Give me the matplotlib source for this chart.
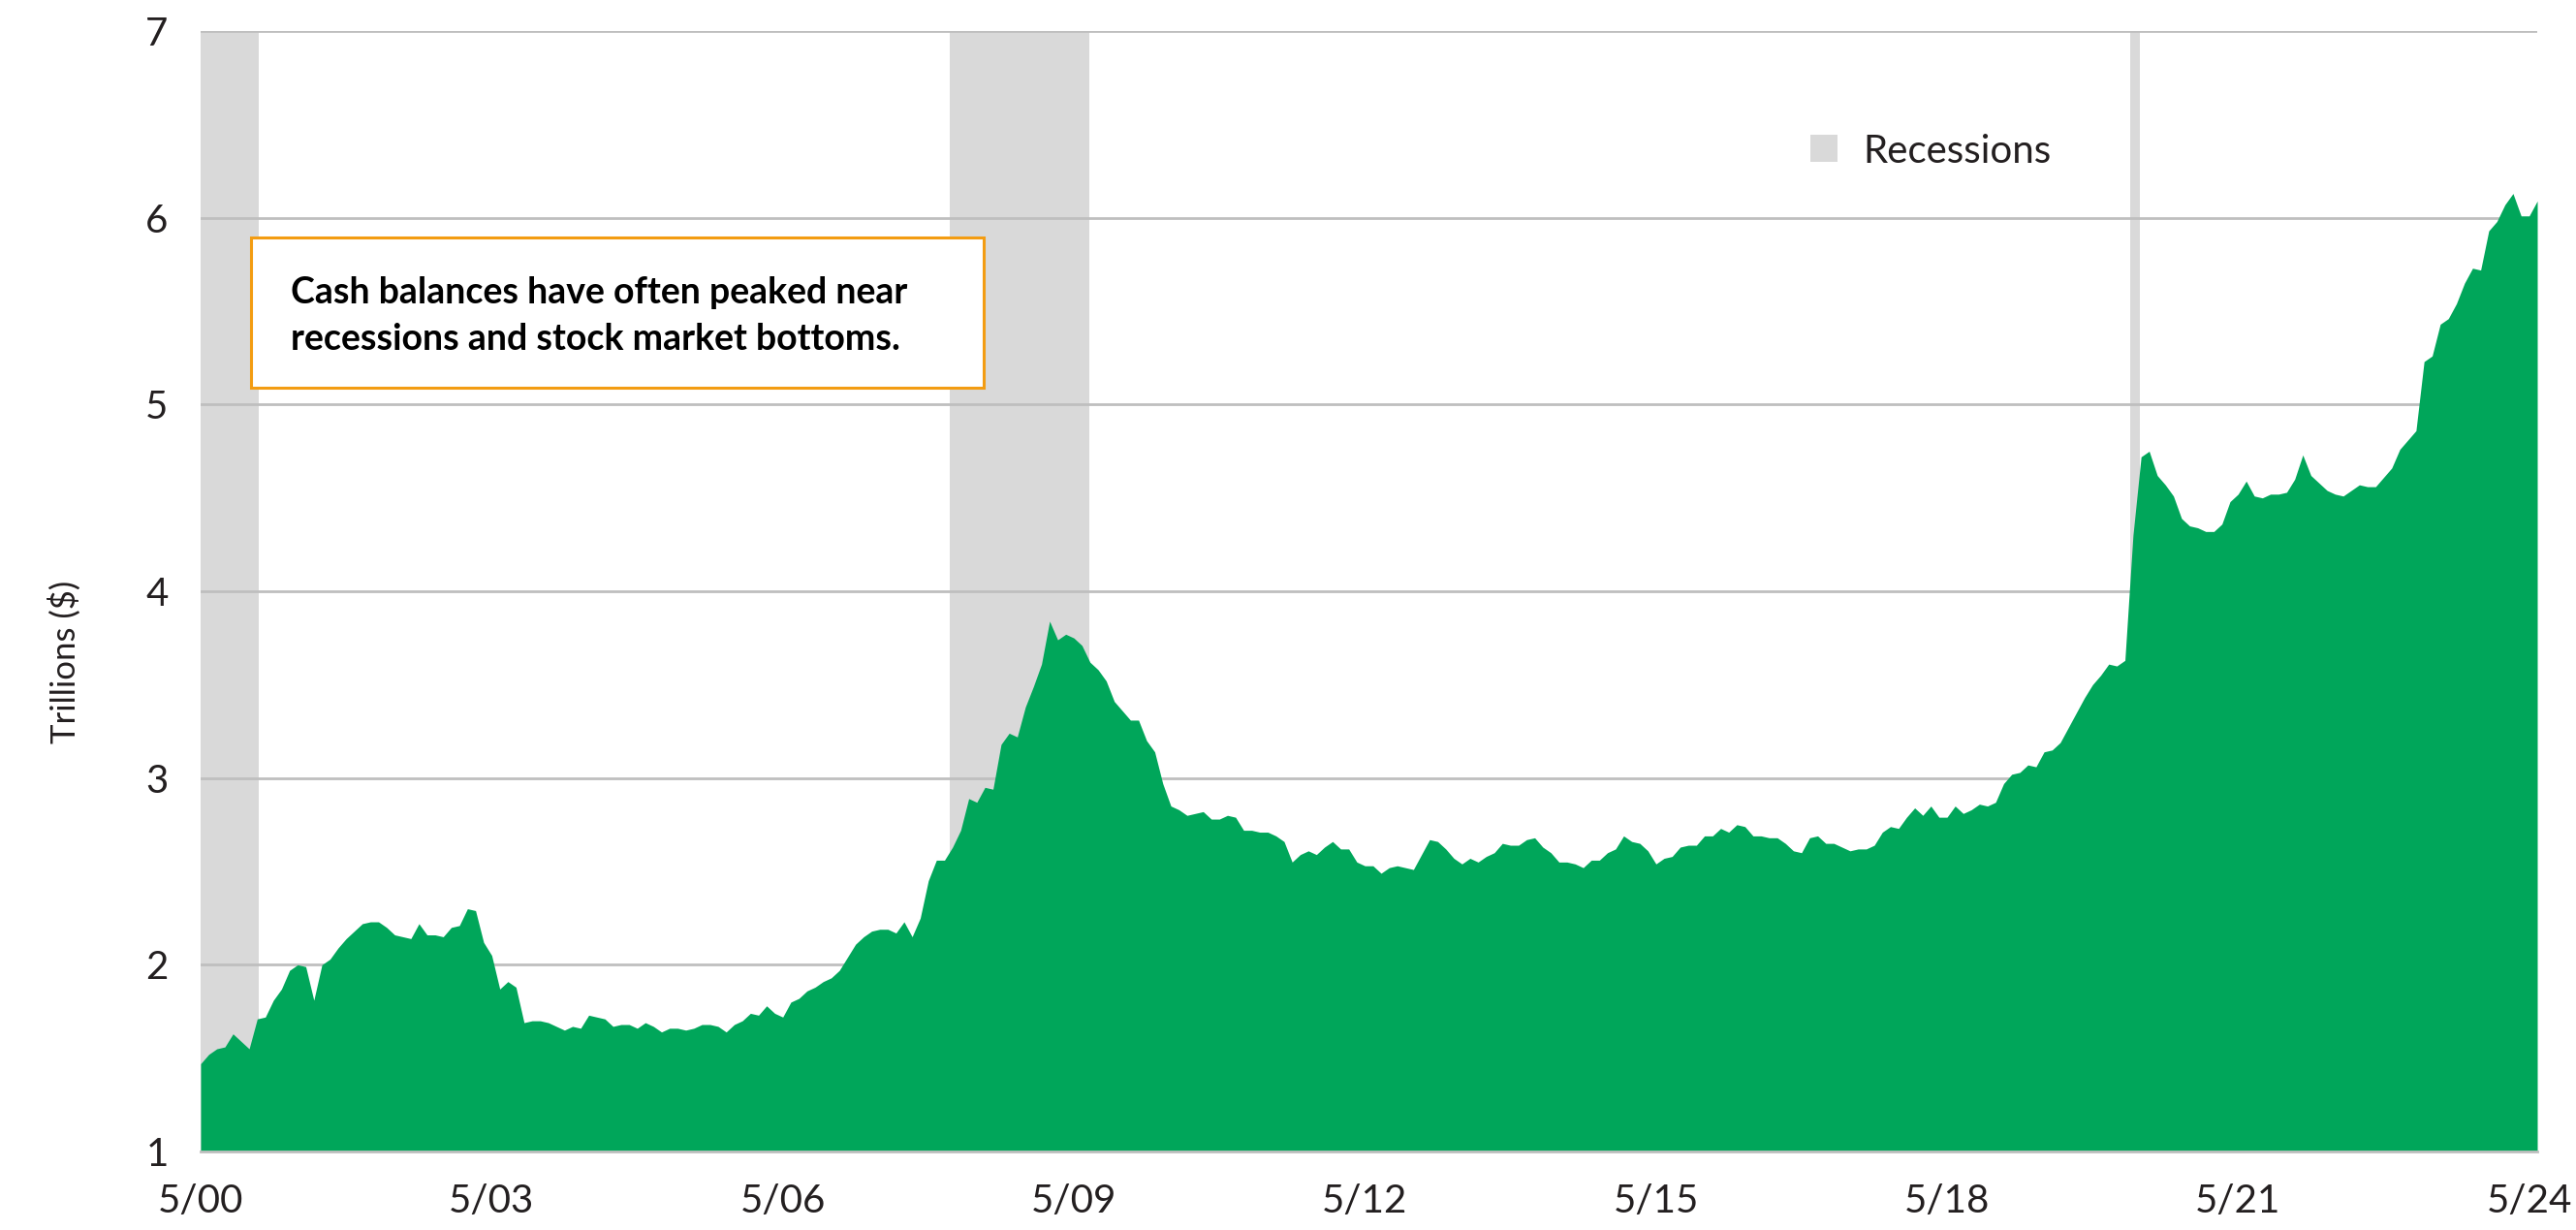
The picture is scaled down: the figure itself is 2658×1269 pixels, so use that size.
import matplotlib.pyplot as plt
from matplotlib.patches import Rectangle

# money market fund assets, trillions of dollars, monthly from 5/00
assets_trn = [
    1.47, 1.52, 1.55, 1.56, 1.63, 1.59, 1.55, 1.71, 1.72, 1.81, 1.87, 1.97,
    2.00, 1.99, 1.81, 2.00, 2.03, 2.09, 2.14, 2.18, 2.22, 2.23, 2.23, 2.20,
    2.16, 2.15, 2.14, 2.22, 2.16, 2.16, 2.15, 2.20, 2.21, 2.30, 2.29, 2.12,
    2.05, 1.87, 1.91, 1.88, 1.69, 1.70, 1.70, 1.69, 1.67, 1.65, 1.67, 1.66,
    1.73, 1.72, 1.71, 1.67, 1.68, 1.68, 1.66, 1.69, 1.67, 1.64, 1.66, 1.66,
    1.65, 1.66, 1.68, 1.68, 1.67, 1.64, 1.68, 1.70, 1.74, 1.73, 1.78, 1.74,
    1.72, 1.80, 1.82, 1.86, 1.88, 1.91, 1.93, 1.97, 2.04, 2.11, 2.15, 2.18,
    2.19, 2.19, 2.17, 2.23, 2.15, 2.25, 2.45, 2.56, 2.56, 2.63, 2.72, 2.89,
    2.87, 2.95, 2.94, 3.18, 3.24, 3.22, 3.38, 3.49, 3.61, 3.84, 3.74, 3.77,
    3.75, 3.71, 3.62, 3.58, 3.52, 3.41, 3.36, 3.31, 3.31, 3.20, 3.14, 2.97,
    2.85, 2.83, 2.80, 2.81, 2.82, 2.78, 2.78, 2.80, 2.79, 2.72, 2.72, 2.71,
    2.71, 2.69, 2.66, 2.55, 2.59, 2.61, 2.59, 2.63, 2.66, 2.62, 2.62, 2.55,
    2.53, 2.53, 2.49, 2.52, 2.53, 2.52, 2.51, 2.59, 2.67, 2.66, 2.62, 2.57,
    2.54, 2.57, 2.55, 2.58, 2.60, 2.65, 2.64, 2.64, 2.67, 2.68, 2.63, 2.60,
    2.55, 2.55, 2.54, 2.52, 2.56, 2.56, 2.60, 2.62, 2.69, 2.66, 2.65, 2.61,
    2.54, 2.57, 2.58, 2.63, 2.64, 2.64, 2.69, 2.69, 2.73, 2.71, 2.75, 2.74,
    2.69, 2.69, 2.68, 2.68, 2.65, 2.61, 2.60, 2.68, 2.69, 2.65, 2.65, 2.63,
    2.61, 2.62, 2.62, 2.64, 2.71, 2.74, 2.73, 2.79, 2.84, 2.80, 2.85, 2.79,
    2.79, 2.85, 2.81, 2.83, 2.86, 2.85, 2.87, 2.97, 3.02, 3.03, 3.07, 3.06,
    3.14, 3.15, 3.19, 3.27, 3.35, 3.43, 3.50, 3.55, 3.61, 3.60, 3.63, 4.30,
    4.72, 4.75, 4.62, 4.57, 4.51, 4.39, 4.35, 4.34, 4.32, 4.32, 4.36, 4.48,
    4.52, 4.59, 4.51, 4.50, 4.52, 4.52, 4.53, 4.60, 4.73, 4.62, 4.58, 4.54,
    4.52, 4.51, 4.54, 4.57, 4.56, 4.56, 4.61, 4.66, 4.76, 4.81, 4.86, 5.23,
    5.26, 5.43, 5.46, 5.54, 5.65, 5.73, 5.72, 5.93, 5.98, 6.07, 6.13, 6.01,
    6.01, 6.09,
]
months = list(range(len(assets_trn)))

# recession shading, in months since 5/00
recessions = [(0, 7.2), (92.7, 109.9), (238.7, 239.9)]

tick_months = [0, 36, 72, 108, 144, 180, 216, 252, 288]
tick_labels = ["5/00", "5/03", "5/06", "5/09", "5/12", "5/15", "5/18", "5/21", "5/24"]
y_ticks = [1, 2, 3, 4, 5, 6, 7]

GREEN = "#00A65A"
SHADE = "#D9D9D9"
GRID = "#BFBFBF"
INK = "#231F20"

plt.rcParams["font.family"] = ["Lato", "DejaVu Sans"]

W, H = 2658, 1269
fig = plt.figure(figsize=(W / 100, H / 100), dpi=100)
ax = fig.add_axes([207 / W, 1 - 1188 / H, (2618 - 207) / W, (1188 - 32) / H])

for start, end in recessions:
    ax.axvspan(start, end, color=SHADE, lw=0, zorder=0)

ax.fill_between(months, 1, assets_trn, color=GREEN, lw=0, zorder=2)

ax.set_xlim(0, len(assets_trn) - 1)
ax.set_ylim(1, 7)
ax.set_yticks(y_ticks)
ax.set_xticks(tick_months)
ax.set_xticklabels(tick_labels)
ax.tick_params(axis="both", length=0, labelsize=29, colors=INK)
ax.tick_params(axis="x", pad=24)
ax.tick_params(axis="y", pad=24)

ax.grid(axis="y", color=GRID, lw=2, zorder=1)
ax.set_axisbelow(True)
for side in ["left", "right", "top"]:
    ax.spines[side].set_visible(False)
ax.spines["bottom"].set_color(GRID)
ax.spines["bottom"].set_linewidth(2)
ax.spines["bottom"].set_zorder(3)

ax.set_ylabel("Trillions ($)", fontsize=25, color=INK)
ax.yaxis.set_label_coords(-0.051, 0.437)

# legend entry for the shaded bands
fig.patches.append(Rectangle((1868 / W, 1 - 167 / H), 28 / W, 28 / H,
                             transform=fig.transFigure, color=SHADE, lw=0))
fig.text(1922 / W, 1 - 168 / H, "Recessions", fontsize=29, color=INK, va="baseline")

# call-out box
fig.patches.append(Rectangle((259 / W, 1 - 400 / H), (1015 - 259) / W, (400 - 245) / H,
                             transform=fig.transFigure, facecolor="white",
                             edgecolor="#F39C12", lw=2.2, zorder=5))
fig.text(300 / W, 1 - 313 / H, "Cash balances have often peaked near",
         fontsize=27, fontweight="bold", color="black", va="baseline", zorder=6)
fig.text(300 / W, 1 - 361 / H, "recessions and stock market bottoms.",
         fontsize=27, fontweight="bold", color="black", va="baseline", zorder=6)

fig.savefig("out.png", dpi=100, facecolor="white")
